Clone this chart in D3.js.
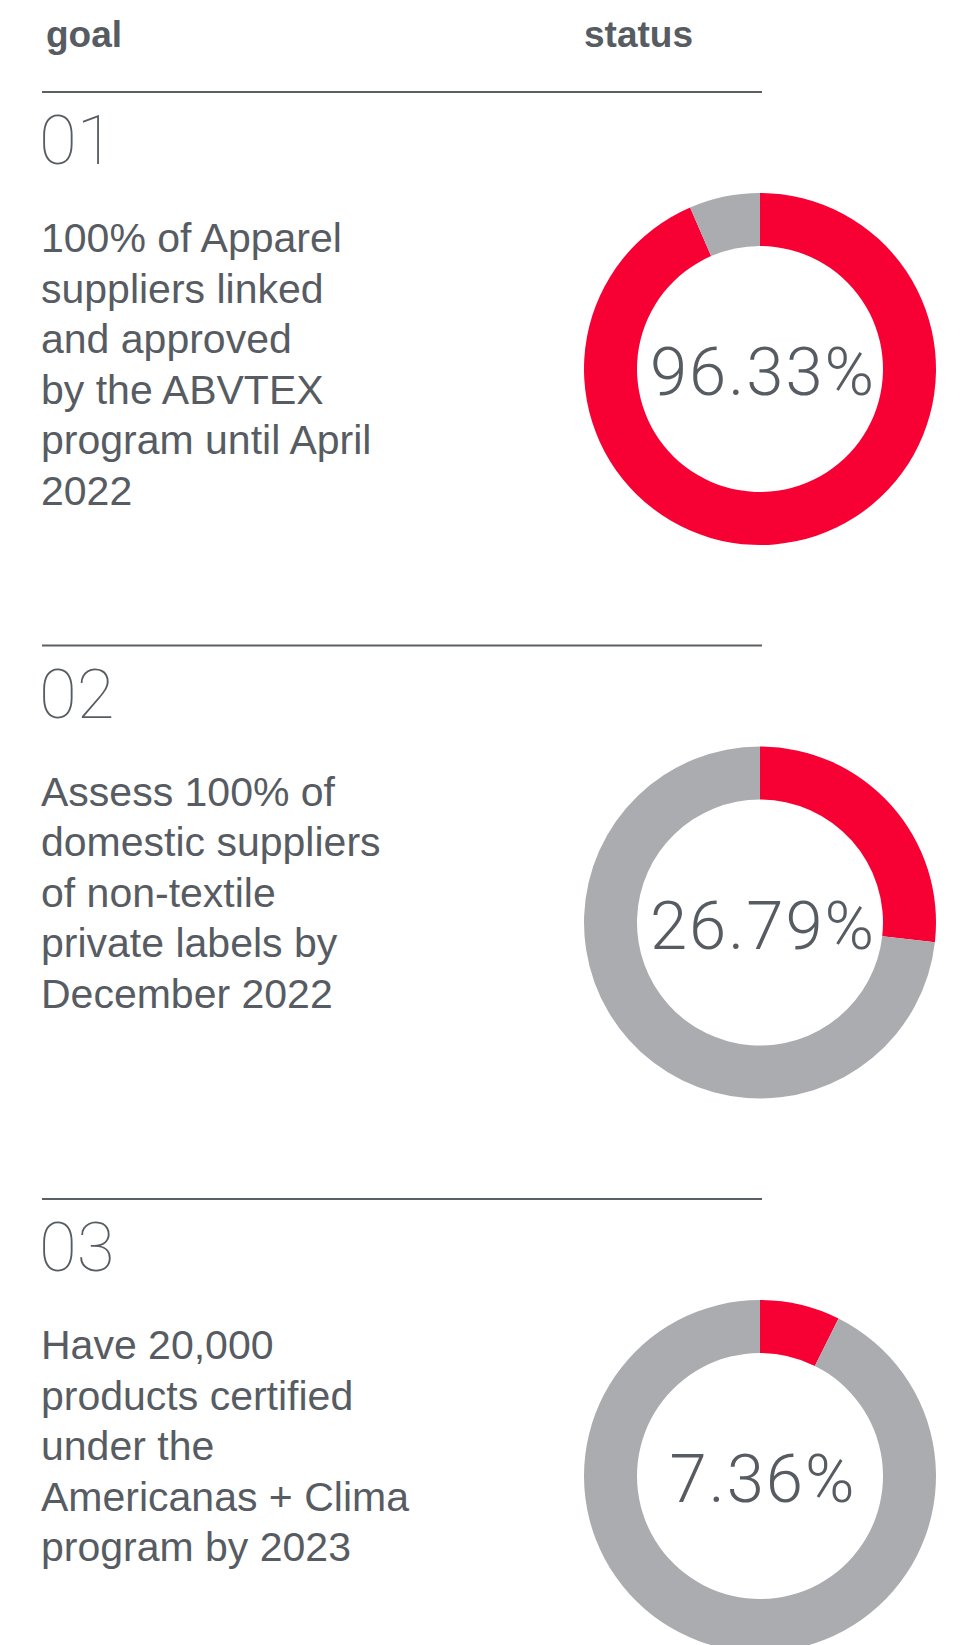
<!DOCTYPE html>
<html>
<head>
<meta charset="utf-8">
<script src="https://cdn.jsdelivr.net/npm/d3@7"></script>
<style>
  body { margin: 0; background: #fff; }
  text { font-family: "Liberation Sans", Arial, sans-serif; fill: #575c63; }
</style>
</head>
<body>
<svg id="mySvg"></svg>
<script>
// goals and their status
const goalNumbers = ["01", "02", "03"];
const goalLines = [
    ["100% of Apparel", "suppliers linked", "and approved", "by the ABVTEX", "program until April", "2022"],
    ["Assess 100% of", "domestic suppliers", "of non-textile", "private labels by", "December 2022"],
    ["Have 20,000", "products certified", "under the", "Americanas + Clima", "program by 2023"]
];
const statusLabels = [96.33, 26.79, 7.36];
// share of the ring painted red
const ringShares = [93.5, 26.79, 7.36];

const width = 963, height = 1645;
const red = "#f70033", grey = "#abacaf";

const svg = d3.select("#mySvg")
    .attr("width", width)
    .attr("height", height);

// header
svg.append("text").attr("x", 46).attr("y", 47)
    .style("font-size", "37px").style("font-weight", "bold").text("goal");
svg.append("text").attr("x", 584).attr("y", 47)
    .style("font-size", "37px").style("font-weight", "bold").text("status");

// vertical position of each section's rule
const yScale = d3.scalePoint().domain(goalNumbers).range([92, 1199]);

const pie = d3.pie().sort(null).value(d => d);
const arc = d3.arc().innerRadius(123).outerRadius(176);

goalNumbers.forEach((num, i) => {
    const y0 = yScale(num);
    const g = svg.append("g").attr("transform", `translate(0, ${y0})`);

    g.append("line")
        .attr("x1", 42).attr("x2", 762)
        .attr("y1", 0).attr("y2", 0)
        .attr("stroke", "#5b6067")
        .attr("stroke-width", 2);

    g.append("text")
        .attr("x", 39).attr("y", 72)
        .style("font-family", "Roboto, 'Liberation Sans', sans-serif")
        .style("font-weight", 100)
        .style("font-size", "69px")
        .text(num);

    g.append("text")
        .selectAll("tspan")
        .data(goalLines[i])
        .join("tspan")
        .attr("x", 41)
        .attr("y", (d, j) => 160 + j * 50.5)
        .style("font-size", "41px")
        .text(d => d);

    // donut
    const share = ringShares[i];
    const donut = g.append("g").attr("transform", "translate(760, 277)");
    donut.selectAll("path")
        .data(pie([share, 100 - share]))
        .join("path")
        .attr("d", arc)
        .attr("fill", (d, j) => j === 0 ? red : grey);

    donut.append("text")
        .attr("x", 3).attr("y", 26)
        .attr("text-anchor", "middle")
        .style("font-family", "Roboto, 'Liberation Sans', sans-serif")
        .style("font-weight", 300)
        .style("font-size", "67px")
        .style("letter-spacing", "2px")
        .text(statusLabels[i].toFixed(2) + "%");
});
</script>
</body>
</html>
